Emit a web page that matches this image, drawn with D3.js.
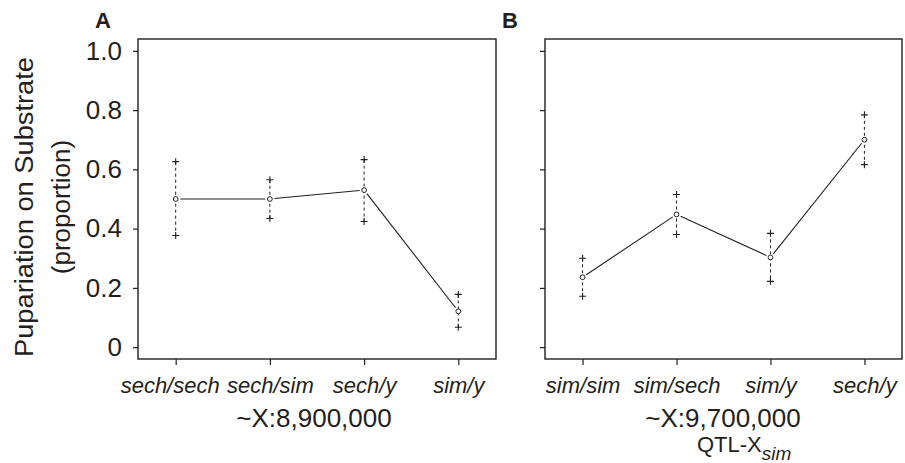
<!DOCTYPE html>
<html>
<head>
<meta charset="utf-8">
<script src="https://cdn.jsdelivr.net/npm/d3@7"></script>
<style>
  body { margin: 0; background: #fff; }
  svg text { font-family: "Liberation Sans", Arial, Helvetica, sans-serif; fill: #231f20; }
</style>
</head>
<body>
<div class="chart"></div>
<script>
var width = 905,
    height = 463;

// panel A: ~X:8,900,000
var groupsA = ["sech/sech", "sech/sim", "sech/y", "sim/y"];
var meanA = [0.50, 0.50, 0.53, 0.121];
var upperA = [0.626, 0.565, 0.633, 0.178];
var lowerA = [0.377, 0.434, 0.424, 0.067];

// panel B: ~X:9,700,000
var groupsB = ["sim/sim", "sim/sech", "sim/y", "sech/y"];
var meanB = [0.236, 0.448, 0.303, 0.700];
var upperB = [0.300, 0.515, 0.384, 0.784];
var lowerB = [0.172, 0.380, 0.222, 0.616];

var yTicks = [0, 0.2, 0.4, 0.6, 0.8, 1.0];
var yTickLabels = ["0", "0.2", "0.4", "0.6", "0.8", "1.0"];

var svg = d3.select(".chart").append("svg")
    .attr("width", width)
    .attr("height", height);

var plotTop = 39, plotBottom = 359;

var y = d3.scaleLinear()
    .domain([-0.04, 1.04])
    .range([plotBottom, plotTop]);

function panel(left, right, groups, mean, upper, lower, letter, showLabels) {
    var x = d3.scalePoint()
        .domain(groups)
        .range([left, right])
        .padding(0.4);

    var g = svg.append("g");

    // y axis
    var yAxis = d3.axisLeft(y)
        .tickValues(yTicks)
        .tickSize(5)
        .tickPadding(11)
        .tickFormat((d, i) => showLabels ? yTickLabels[i] : "");
    var ya = g.append("g")
        .attr("transform", `translate(${left},0)`)
        .call(yAxis);
    ya.select(".domain").remove();
    ya.selectAll("line").attr("stroke", "#231f20").attr("stroke-width", 1.2);
    ya.selectAll("text").style("font-size", "26px").attr("fill", "#231f20");

    // x axis
    var xa = g.append("g")
        .attr("transform", `translate(0,${plotBottom})`)
        .call(d3.axisBottom(x).tickSize(6).tickPadding(12));
    xa.select(".domain").remove();
    xa.selectAll("line").attr("stroke", "#231f20").attr("stroke-width", 1.2);
    xa.selectAll("text")
        .style("font-size", "22px")
        .style("font-style", "italic")
        .attr("fill", "#231f20")
        .attr("dx", (d, i) => (showLabels && i === 0) ? -6 : 0);

    // box
    g.append("rect")
        .attr("x", left)
        .attr("y", plotTop)
        .attr("width", right - left)
        .attr("height", plotBottom - plotTop)
        .attr("fill", "none")
        .attr("stroke", "#231f20")
        .attr("stroke-width", 1.4);

    // panel letter
    g.append("text")
        .attr("x", left - 43)
        .attr("y", 28)
        .style("font-size", "22px")
        .style("font-weight", "bold")
        .text(letter);

    var pts = groups.map((d, i) => ({ x: x(d), y: y(mean[i]), up: y(upper[i]), lo: y(lower[i]) }));

    // connecting line with gaps round the points (type "b")
    var gap = 4.5;
    for (var i = 0; i < pts.length - 1; i++) {
        var a = pts[i], b = pts[i + 1];
        var dx = b.x - a.x, dy = b.y - a.y;
        var len = Math.sqrt(dx * dx + dy * dy);
        var ux = dx / len, uy = dy / len;
        g.append("line")
            .attr("x1", a.x + ux * gap)
            .attr("y1", a.y + uy * gap)
            .attr("x2", b.x - ux * gap)
            .attr("y2", b.y - uy * gap)
            .attr("stroke", "#231f20")
            .attr("stroke-width", 1.1);
    }

    // dashed intervals
    g.selectAll(".err")
        .data(pts)
        .enter().append("line")
        .attr("x1", d => d.x)
        .attr("x2", d => d.x)
        .attr("y1", d => d.up)
        .attr("y2", d => d.lo)
        .attr("stroke", "#231f20")
        .attr("stroke-width", 1)
        .attr("stroke-dasharray", "3,3");

    // plus marks at interval ends
    var ends = [];
    pts.forEach(p => { ends.push({ x: p.x, y: p.up }); ends.push({ x: p.x, y: p.lo }); });
    g.selectAll(".plus")
        .data(ends)
        .enter().append("path")
        .attr("transform", d => `translate(${d.x},${d.y})`)
        .attr("d", "M-3.5,0H3.5M0,-3.5V3.5")
        .attr("stroke", "#231f20")
        .attr("stroke-width", 1.1)
        .attr("fill", "none");

    // mean circles
    g.selectAll(".pt")
        .data(pts)
        .enter().append("circle")
        .attr("cx", d => d.x)
        .attr("cy", d => d.y)
        .attr("r", 2.4)
        .attr("fill", "#fff")
        .attr("stroke", "#231f20")
        .attr("stroke-width", 1);

    return x;
}

panel(138, 496, groupsA, meanA, upperA, lowerA, "A", true);
panel(545, 902, groupsB, meanB, upperB, lowerB, "B", false);

// x titles
svg.append("text")
    .attr("x", 314)
    .attr("y", 427)
    .attr("text-anchor", "middle")
    .style("font-size", "26px")
    .text("~X:8,900,000");

svg.append("text")
    .attr("x", 723)
    .attr("y", 427)
    .attr("text-anchor", "middle")
    .style("font-size", "26px")
    .text("~X:9,700,000");

var qtl = svg.append("text")
    .attr("x", 697)
    .attr("y", 452)
    .style("font-size", "22px");
qtl.append("tspan").text("QTL-X");
qtl.append("tspan")
    .attr("dy", 8)
    .style("font-size", "19px")
    .style("font-style", "italic")
    .text("sim");

// y title
var yt = svg.append("text")
    .attr("transform", "translate(33,207) rotate(-90)")
    .attr("text-anchor", "middle")
    .style("font-size", "26px");
yt.append("tspan").attr("x", 0).attr("y", 0)
    .attr("textLength", 300)
    .attr("lengthAdjust", "spacingAndGlyphs")
    .text("Pupariation on Substrate");
yt.append("tspan").attr("x", 0).attr("y", 37).text("(proportion)");
</script>
</body>
</html>
